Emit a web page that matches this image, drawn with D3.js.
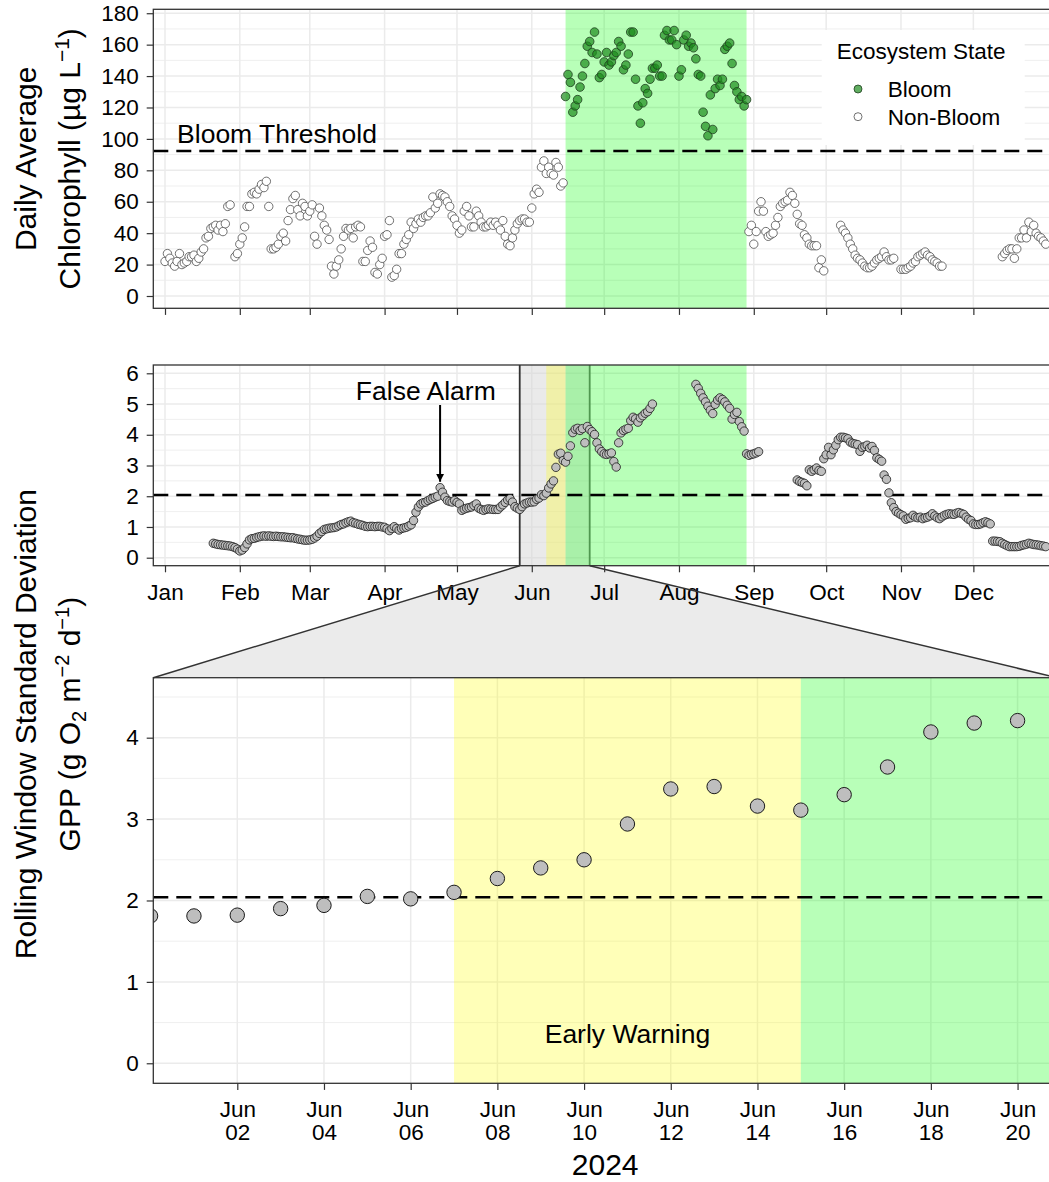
<!DOCTYPE html>
<html>
<head>
<meta charset="utf-8">
<script src="https://cdn.jsdelivr.net/npm/d3@7"></script>
<style>
  body { margin: 0; background: #fff; }
  svg text { font-family: "Liberation Sans", Arial, sans-serif; fill: #000; }
</style>
</head>
<body>
<script>
// ---------- data ----------
// daily average chlorophyll (ug/L), one value per day from Jan 1 2024, null = no data
var chlStart = new Date(2024, 0, 1);
var chlorophyll = [
  22, 27, 24, 21, 19, 22, 27, 20, 21, 22,
  25, 25, 26, 22, 24, 28, 30, 37, 38, 43,
  44, 45, 42, 45, 41, 46, 57, 58, null, 25,
  27, 33, 37, 44, 57, 57, 65, 66, 65, 68,
  71, 69, 73, 57, 30, 30, 31, 33, 38, 40,
  35, 48, 55, 62, 64, 55, 51, 59, 57, 51,
  54, 58, 38, 33, 56, 51, 45, 42, 36, 19,
  14, 19, 23, 30, 38, 43, 42, 43, 37, 44,
  45, 44, 22, 22, 29, 35, 31, 15, 14, 20,
  24, 38, 39, 48, 12, 13, 17, 27, 27, 33,
  36, 39, 47, 43, 46, 49, 47, 50, 51, 51,
  53, 63, 56, 59, 65, 64, 63, 60, 57, 51,
  49, 45, 40, 42, 54, 57, 51, 44, 44, 54,
  51, 47, 44, 44, 45, 47, 45, 47, 45, 42,
  48, 38, 33, 32, 37, 42, 46, 48, 49, 49,
  47, 47, 56, 65, 68, 66, 82, 86, 78, 82,
  78, 77, 85, 82, 70, 72, 127, 141, 136, 117,
  121, 125, 133, 140, 148, 159, 162, 155, 168, 154,
  139, 141, 149, 155, 147, 149, 153, 155, 162, 159,
  144, 147, 154, 168, 168, 138, 121, 110, 123, 132,
  129, 138, 145, 145, 147, 140, 140, 166, 169, 163,
  163, 169, 160, 140, 144, 163, 166, 159, 161, 158,
  151, 141, 140, 117, 108, 102, 128, 106, 132, 138,
  134, 138, 157, 159, 161, 148, 134, 130, 125, 127,
  121, 125, 41, 45, 33, 41, 54, 60, 54, 41,
  38, 39, 40, 45, 50, 57, 59, 60, 61, 66,
  64, 59, 52, 46, 45, 39, 37, 33, 32, 32,
  32, 18, 23, 16, null, null, null, null, null, null,
  45, 42, 40, 37, 33, 30, 26, 24, 23, 21,
  19, 18, 18, 19, 21, 23, 24, 25, 28, 25,
  23, 23, 24, null, null, 17, 17, 17, 18, 19,
  21, 22, 25, 26, 27, 28, 26, 25, 23, 22,
  21, 19, 19, null, null, null, null, null, null, null,
  null, null, null, null, null, null, null, null, null, null,
  null, null, null, null, null, null, null, 25, 27, 29,
  30, 30, 24, 30, 37, 37, 42, 37, 47, 41,
  45, 40, 38, 37, 35, 33
];

// rolling window standard deviation of GPP, one value per day from Jan 21 2024
var gppStart = new Date(2024, 0, 21);
var gppSd = [
  0.47, 0.45, 0.43, 0.42, 0.41, 0.40, 0.39, 0.38, 0.36, 0.33,
  0.28, 0.22, 0.25, 0.33, 0.45, 0.58, 0.62, 0.63, 0.66, 0.68,
  0.70, 0.71, 0.70, 0.71, 0.70, 0.69, 0.70, 0.69, 0.68, 0.68,
  0.67, 0.66, 0.65, 0.65, 0.63, 0.61, 0.60, 0.58, 0.57, 0.57,
  0.58, 0.60, 0.64, 0.70, 0.79, 0.85, 0.92, 0.94, 0.96, 0.97,
  0.98, 1.00, 1.04, 1.08, 1.10, 1.14, 1.17, 1.19, 1.14, 1.12,
  1.09, 1.07, 1.05, 1.02, 1.01, 1.02, 1.02, 1.01, 1.02, 1.02,
  1.00, 0.99, 0.94, 0.88, 0.95, 1.01, 0.95, 0.90, 0.95, 0.97,
  0.99, 1.03, 1.07, 1.21, 1.48, 1.65, 1.75, 1.79, 1.81, 1.86,
  1.90, 1.93, 1.97, 2.00, 2.28, 2.13, 1.97, 1.86, 1.83, 1.81,
  1.86, 1.80, 1.75, 1.54, 1.58, 1.61, 1.63, 1.65, 1.70, 1.75,
  1.61, 1.57, 1.54, 1.57, 1.59, 1.58, 1.57, 1.57, 1.57, 1.65,
  1.72, 1.80, 1.88, 1.92, 1.81, 1.66, 1.61, 1.57, 1.66, 1.75,
  1.78, 1.81, 1.81, 1.82, 1.90, 1.94, 2.05, 2.02, 2.10, 2.27,
  2.40, 2.50, 2.94, 3.37, 3.40, 3.16, 3.11, 3.30, 3.64, 4.07,
  4.18, 4.21, 4.14, 4.20, 3.74, 4.27, 4.17, 4.10, 4.01, 3.74,
  3.54, 3.45, 3.38, 3.36, 3.38, 3.41, 3.13, 2.95, 3.74, 4.06,
  4.14, 4.18, 4.21, 4.46, 4.57, 4.52, 4.41, 4.55, 4.62, 4.70,
  4.75, 4.86, 5.00, null, null, null, null, null, null, null,
  null, null, null, null, null, null, null, null, null, null,
  5.64, 5.51, 5.35, 5.20, 5.07, 4.93, 4.80, 4.69, 4.99, 5.13,
  5.20, 5.15, 5.07, 4.96, 4.86, 4.51, 4.66, 4.73, 4.43, 4.26,
  4.12, 3.38, 3.33, 3.36, 3.38, 3.41, 3.45, null, null, null,
  null, null, null, null, null, null, null, null, null, null,
  null, null, 2.53, 2.48, 2.45, 2.42, 2.34, 2.86, 2.81, 2.86,
  2.92, 2.84, 2.81, 3.22, 3.35, 3.59, 3.35, 3.51, 3.66, 3.84,
  3.92, 3.92, 3.90, 3.87, 3.76, 3.72, 3.70, 3.68, 3.46, 3.59,
  3.62, 3.66, 3.57, 3.62, 3.49, 3.25, 3.20, 3.14, 2.69, 2.55,
  2.11, 1.79, 1.63, 1.50, 1.45, 1.40, 1.36, 1.25, 1.28, 1.30,
  1.38, 1.32, 1.30, 1.32, 1.27, 1.30, 1.32, 1.36, 1.43, 1.36,
  1.30, 1.27, 1.33, 1.38, 1.41, 1.43, 1.42, 1.41, 1.45, 1.47,
  1.44, 1.41, 1.32, 1.25, 1.21, 1.10, 1.08, 1.08, 1.10, 1.14,
  1.17, 1.14, 1.10, 0.54, 0.54, 0.53, 0.52, 0.47, 0.43, 0.39,
  0.36, 0.36, 0.36, 0.36, 0.37, 0.40, 0.42, 0.44, 0.47, 0.45,
  0.43, 0.42, 0.41, 0.39, 0.38, 0.36
];

var chlThreshold = 92.3;
var gppThreshold = 2.04;
var chlTicks = [0, 20, 40, 60, 80, 100, 120, 140, 160, 180];
var gppTicks = [0, 1, 2, 3, 4, 5, 6];
var zoomTicks = [0, 1, 2, 3, 4];
var bloomPeriod = [new Date(2024, 5, 15), new Date(2024, 7, 29)];
var warningPeriod = [new Date(2024, 5, 7), new Date(2024, 5, 15)];
var zoomWindow = [new Date(2024, 4, 27), new Date(2024, 5, 25)];
var legendStates = ["Bloom", "Non-Bloom"];

// ---------- layout ----------
var W = 1049, H = 1182;
var L = 153.3, R = 1057;
var P1 = { top: 9.3, bottom: 308.3 };
var P2 = { top: 365, bottom: 565.7 };
var P3 = { top: 677.7, bottom: 1083.3 };
var green = "#00ff00", yellow = "#ffff00";

var xYear = d3.scaleTime().domain([new Date(2023, 11, 27, 3, 36), new Date(2025, 0, 4, 15, 50)]).range([L, R]);
var xZoom = d3.scaleTime().domain([new Date(2024, 4, 31, 1, 30), new Date(2024, 5, 20, 21, 50)]).range([L, R]);
var yChl = d3.scaleLinear().domain([-7.83, 182.5]).range([P1.bottom, P1.top]);
var yGpp = d3.scaleLinear().domain([-0.26, 6.27]).range([P2.bottom, P2.top]);
var yZoom = d3.scaleLinear().domain([-0.246, 4.737]).range([P3.bottom, P3.top]);

function daily(start, values) {
  return values.map(function (v, i) { return { date: d3.timeDay.offset(start, i), value: v }; })
    .filter(function (d) { return d.value != null; });
}
var chlData = daily(chlStart, chlorophyll);
var gppData = daily(gppStart, gppSd);
var zoomData = gppData.filter(function (d) {
  return d.date >= d3.timeDay.offset(xZoom.domain()[0], -1) && d.date <= d3.timeDay.offset(xZoom.domain()[1], 1);
});

var monthTicks = d3.timeMonth.range(new Date(2024, 0, 1), new Date(2025, 0, 1));
var dayTicks = d3.timeDay.range(new Date(2024, 5, 2), new Date(2024, 5, 21), 2);
function halves(max) { return d3.range(0.5, max, 1); }

var svg = d3.select("body").append("svg").attr("width", W).attr("height", H);
var defs = svg.append("defs");
defs.append("marker").attr("id", "arrow").attr("markerUnits", "userSpaceOnUse")
  .attr("markerWidth", 9).attr("markerHeight", 8).attr("refX", 8).attr("refY", 4).attr("orient", "auto")
  .append("path").attr("d", "M0,0L8,4L0,8Z").attr("fill", "#000");

// connector between the zoom box and the magnified panel
var conPts = [[xYear(zoomWindow[0]), P2.bottom], [xYear(zoomWindow[1]), P2.bottom], [R, P3.top], [L, P3.top]];
svg.append("polygon").attr("points", conPts.join(" ")).attr("fill", "#ebebeb");

function makePanel(id, box, x, xTicks, y, yMajor, yMinor) {
  defs.append("clipPath").attr("id", id).append("rect")
    .attr("x", L).attr("y", box.top).attr("width", R - L).attr("height", box.bottom - box.top);
  var g = svg.append("g").attr("clip-path", "url(#" + id + ")");
  g.append("rect").attr("x", L).attr("y", box.top).attr("width", R - L).attr("height", box.bottom - box.top).attr("fill", "#fff");
  g.selectAll(null).data(yMinor).enter().append("line")
    .attr("x1", L).attr("x2", R).attr("y1", function (d) { return y(d); }).attr("y2", function (d) { return y(d); })
    .attr("stroke", "#ebebeb").attr("stroke-width", 0.8);
  g.selectAll(null).data(yMajor).enter().append("line")
    .attr("x1", L).attr("x2", R).attr("y1", function (d) { return y(d); }).attr("y2", function (d) { return y(d); })
    .attr("stroke", "#ebebeb").attr("stroke-width", 1.5);
  g.selectAll(null).data(xTicks).enter().append("line")
    .attr("y1", box.top).attr("y2", box.bottom).attr("x1", function (d) { return x(d); }).attr("x2", function (d) { return x(d); })
    .attr("stroke", "#ebebeb").attr("stroke-width", 1.5);
  return g;
}
function band(g, x, box, period, color) {
  g.append("rect").attr("x", x(period[0])).attr("width", x(period[1]) - x(period[0]))
    .attr("y", box.top).attr("height", box.bottom - box.top).attr("fill", color).attr("fill-opacity", 0.28);
}
function hline(g, y, v) {
  g.append("line").attr("x1", L).attr("x2", R).attr("y1", y(v)).attr("y2", y(v))
    .attr("stroke", "#000").attr("stroke-width", 2.4).attr("stroke-dasharray", "15,8");
}
function border(box) {
  svg.append("rect").attr("x", L).attr("y", box.top).attr("width", R - L).attr("height", box.bottom - box.top)
    .attr("fill", "none").attr("stroke", "#333").attr("stroke-width", 1.3);
}
function yAxis(y, ticks) {
  var a = svg.append("g").attr("transform", "translate(" + L + ",0)")
    .call(d3.axisLeft(y).tickValues(ticks).tickSize(6.6).tickPadding(8).tickFormat(d3.format("d")));
  a.attr("font-size", 22.5);
  a.select(".domain").remove();
  a.selectAll("line").attr("stroke", "#333").attr("stroke-width", 1.2);
  return a;
}
function xAxis(x, ticks, box, fmt) {
  var a = svg.append("g").attr("transform", "translate(0," + box.bottom + ")")
    .call(d3.axisBottom(x).tickValues(ticks).tickSize(6.6).tickPadding(12).tickFormat(fmt));
  a.attr("font-size", 22.5);
  a.select(".domain").remove();
  a.selectAll("line").attr("stroke", "#333").attr("stroke-width", 1.2);
  a.selectAll("text").attr("dy", null).attr("y", 34.3);
  return a;
}

// ---------- panel 1: chlorophyll ----------
var g1 = makePanel("clip1", P1, xYear, monthTicks, yChl, chlTicks, d3.range(10, 181, 20));
band(g1, xYear, P1, bloomPeriod, green);
hline(g1, yChl, chlThreshold);
g1.selectAll(null).data(chlData.filter(function (d) { return d.value <= chlThreshold; })).enter().append("circle")
  .attr("cx", function (d) { return xYear(d.date); }).attr("cy", function (d) { return yChl(d.value); })
  .attr("r", 4.2).attr("fill", "#fff").attr("stroke", "#4d4d4d").attr("stroke-width", 0.8);
g1.selectAll(null).data(chlData.filter(function (d) { return d.value > chlThreshold; })).enter().append("circle")
  .attr("cx", function (d) { return xYear(d.date); }).attr("cy", function (d) { return yChl(d.value); })
  .attr("r", 4.3).attr("fill", "#1e8c1e").attr("fill-opacity", 0.7).attr("stroke", "#1f3f1f").attr("stroke-width", 0.8);
g1.append("text").attr("x", xYear(new Date(2024, 1, 16, 10))).attr("y", yChl(97.2))
  .attr("text-anchor", "middle").attr("font-size", 26.5).text("Bloom Threshold");

// legend
var lg = svg.append("g");
lg.append("rect").attr("x", 821.7).attr("y", 30).attr("width", 203).attr("height", 115).attr("fill", "#fff");
lg.append("text").attr("x", 836.7).attr("y", 59.3).attr("font-size", 22.5).text("Ecosystem State");
var li = lg.selectAll(null).data(legendStates).enter().append("g")
  .attr("transform", function (d, i) { return "translate(858," + (89 + i * 27.7) + ")"; });
li.append("circle").attr("r", 4)
  .attr("fill", function (d) { return d === "Bloom" ? "#1e8c1e" : "#fff"; })
  .attr("fill-opacity", function (d) { return d === "Bloom" ? 0.7 : 1; })
  .attr("stroke", function (d) { return d === "Bloom" ? "#1f3f1f" : "#4d4d4d"; }).attr("stroke-width", 0.8);
li.append("text").attr("x", 29.7).attr("y", 8.3).attr("font-size", 22.5).text(function (d) { return d; });

border(P1);
yAxis(yChl, chlTicks);
xAxis(xYear, monthTicks, P1, function () { return ""; });

// ---------- panel 2: rolling SD, full year ----------
var g2 = makePanel("clip2", P2, xYear, monthTicks, yGpp, gppTicks, halves(6.5));
var boxX0 = xYear(zoomWindow[0]), boxX1 = xYear(zoomWindow[1]);
g2.append("rect").attr("x", boxX0).attr("width", boxX1 - boxX0)
  .attr("y", P2.top).attr("height", P2.bottom - P2.top)
  .attr("fill", "#d6d6d6").attr("fill-opacity", 0.5);
g2.append("line").attr("x1", boxX0).attr("x2", boxX0).attr("y1", P2.top).attr("y2", P2.bottom)
  .attr("stroke", "#333").attr("stroke-width", 1.8);
g2.append("line").attr("x1", boxX1).attr("x2", boxX1).attr("y1", P2.top).attr("y2", P2.bottom)
  .attr("stroke", "#6f6f6f").attr("stroke-width", 1.8);
band(g2, xYear, P2, warningPeriod, yellow);
band(g2, xYear, P2, bloomPeriod, green);
hline(g2, yGpp, gppThreshold);
g2.selectAll(null).data(gppData).enter().append("circle")
  .attr("cx", function (d) { return xYear(d.date); }).attr("cy", function (d) { return yGpp(d.value); })
  .attr("r", 4.2).attr("fill", "#bebebe").attr("stroke", "#1a1a1a").attr("stroke-width", 0.8);
var alarmDate = new Date(2024, 3, 24);
g2.append("line").attr("x1", xYear(alarmDate)).attr("x2", xYear(alarmDate))
  .attr("y1", yGpp(4.97)).attr("y2", yGpp(2.47)).attr("stroke", "#000").attr("stroke-width", 2)
  .attr("marker-end", "url(#arrow)");
g2.append("text").attr("x", xYear(new Date(2024, 3, 18, 2))).attr("y", yGpp(5.13))
  .attr("text-anchor", "middle").attr("font-size", 26.5).text("False Alarm");
border(P2);
yAxis(yGpp, gppTicks);
xAxis(xYear, monthTicks, P2, d3.timeFormat("%b"));

// ---------- panel 3: magnified window ----------
var g3 = makePanel("clip3", P3, xZoom, dayTicks, yZoom, zoomTicks, halves(5));
band(g3, xZoom, P3, warningPeriod, yellow);
band(g3, xZoom, P3, bloomPeriod, green);
hline(g3, yZoom, gppThreshold);
g3.selectAll(null).data(zoomData).enter().append("circle")
  .attr("cx", function (d) { return xZoom(d.date); }).attr("cy", function (d) { return yZoom(d.value); })
  .attr("r", 7.2).attr("fill", "#bebebe").attr("stroke", "#1a1a1a").attr("stroke-width", 1);
g3.append("text").attr("x", xZoom(new Date(2024, 5, 11))).attr("y", yZoom(0.25))
  .attr("text-anchor", "middle").attr("font-size", 26.5).text("Early Warning");
border(P3);
yAxis(yZoom, zoomTicks);
var ax3 = xAxis(xZoom, dayTicks, P3, function () { return ""; });
ax3.selectAll(".tick text").each(function (d) {
  var t = d3.select(this).attr("y", 33.7);
  t.append("tspan").attr("x", 0).text(d3.timeFormat("%b")(d));
  t.append("tspan").attr("x", 0).attr("dy", 23).text(d3.timeFormat("%d")(d));
});

// connector outlines on top
svg.append("line").attr("x1", conPts[0][0]).attr("y1", conPts[0][1]).attr("x2", conPts[3][0]).attr("y2", conPts[3][1])
  .attr("stroke", "#333").attr("stroke-width", 1.5);
svg.append("line").attr("x1", conPts[1][0]).attr("y1", conPts[1][1]).attr("x2", conPts[2][0]).attr("y2", conPts[2][1])
  .attr("stroke", "#333").attr("stroke-width", 1.5);

// ---------- axis titles ----------
svg.append("text").attr("x", (L + R) / 2).attr("y", 1175).attr("text-anchor", "middle").attr("font-size", 30).text("2024");

var c1 = (P1.top + P1.bottom) / 2;
svg.append("text").attr("transform", "translate(35.5," + c1 + ") rotate(-90)").attr("text-anchor", "middle")
  .attr("font-size", 30).text("Daily Average");
var t1 = svg.append("text").attr("transform", "translate(80," + c1 + ") rotate(-90)").attr("text-anchor", "middle")
  .attr("font-size", 30);
t1.append("tspan").text("Chlorophyll (\u00b5g L");
t1.append("tspan").attr("dy", -11).attr("font-size", 21).text("\u22121");
t1.append("tspan").attr("dy", 11).text(")");

var c2 = (P2.top + P3.bottom) / 2;
svg.append("text").attr("transform", "translate(35.5," + c2 + ") rotate(-90)").attr("text-anchor", "middle")
  .attr("font-size", 30).text("Rolling Window Standard Deviation");
var t2 = svg.append("text").attr("transform", "translate(80," + c2 + ") rotate(-90)").attr("text-anchor", "middle")
  .attr("font-size", 30);
t2.append("tspan").text("GPP (g O");
t2.append("tspan").attr("dy", 6).attr("font-size", 20).text("2");
t2.append("tspan").attr("dy", -6).text(" m");
t2.append("tspan").attr("dy", -11).attr("font-size", 20).text("\u22122");
t2.append("tspan").attr("dy", 11).text(" d");
t2.append("tspan").attr("dy", -11).attr("font-size", 20).text("\u22121");
t2.append("tspan").attr("dy", 11).text(")");
</script>
</body>
</html>
